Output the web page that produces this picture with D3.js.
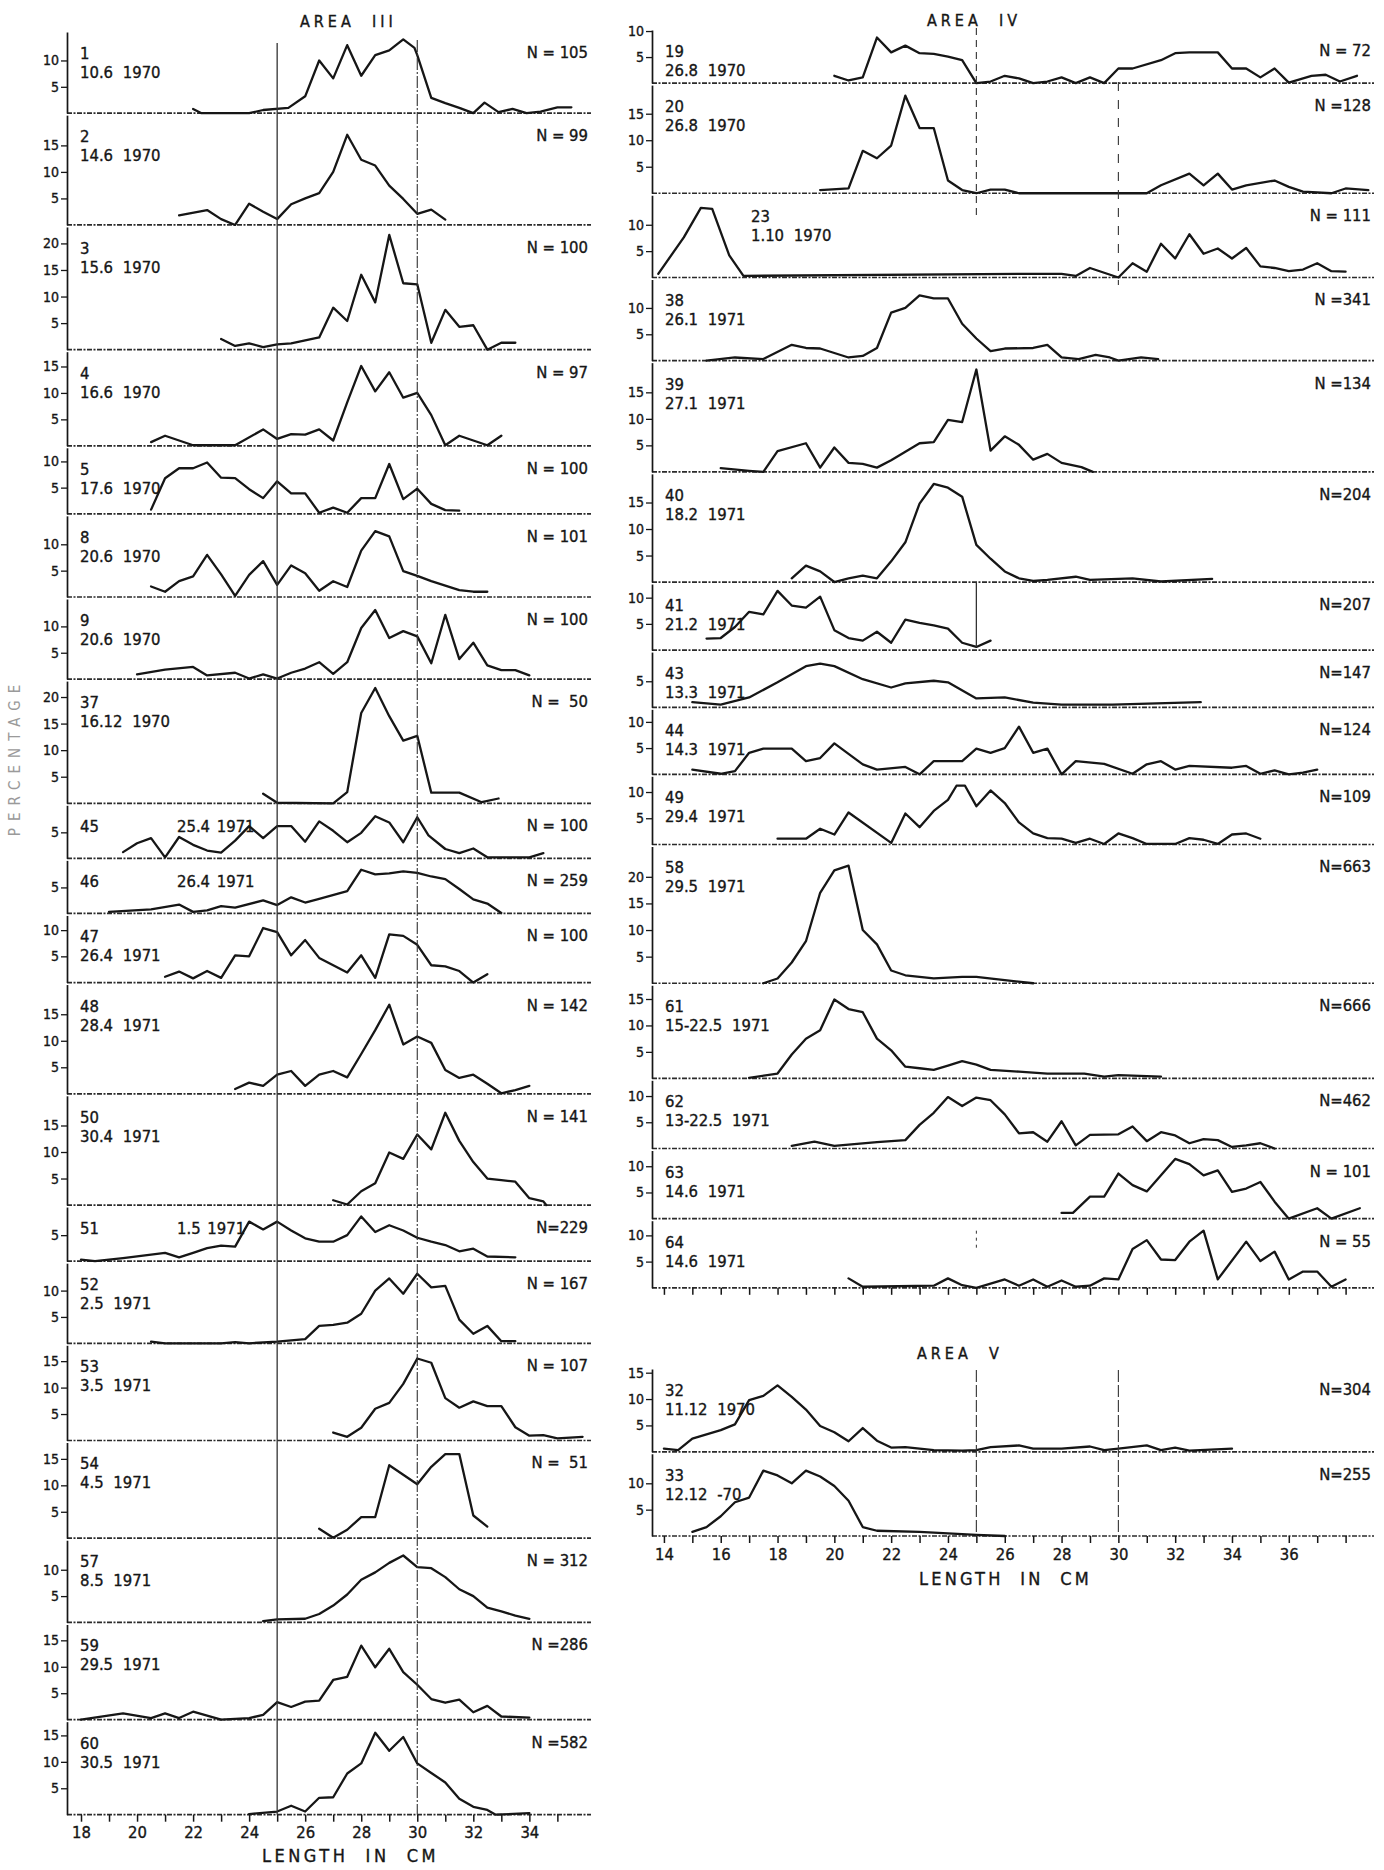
<!DOCTYPE html>
<html><head><meta charset="utf-8">
<script src="https://cdn.jsdelivr.net/npm/d3@7"></script>
<style>
body{margin:0;background:#fff;}
svg text{font-family:"DejaVu Sans Condensed","Liberation Sans Narrow","DejaVu Sans",sans-serif;fill:#161616;stroke:#161616;stroke-width:0.35px;}
</style></head><body>
<svg id="chart" width="1384" height="1870"></svg>
<script>
// ---------- AREA III (left column) ----------
const area3Ids   = ["1","2","3","4","5","8","9","37","45","46","47","48","50","51","52","53","54","57","59","60"];
const area3Dates = ["10.6 1970","14.6 1970","15.6 1970","16.6 1970","17.6 1970","20.6 1970","20.6 1970","16.12 1970","25.4 1971","26.4 1971","26.4 1971","28.4 1971","30.4 1971","1.5 1971","2.5 1971","3.5 1971","4.5 1971","8.5 1971","29.5 1971","30.5 1971"];
const area3N     = ["N = 105","N = 99","N = 100","N = 97","N = 100","N = 101","N = 100","N =  50","N = 100","N = 259","N = 100","N = 142","N = 141","N=229","N = 167","N = 107","N =  51","N = 312","N =286","N =582"];
const area3Top   = [15.4,20.7,23.1,17.8,12.6,15.4,15.2,23,10.2,10.2,12.8,20.6,20.6,10.4,15.2,18,18.1,15.6,18,17.6];
const area3TickMax = [10,15,20,15,10,10,10,20,5,5,10,15,15,5,10,15,15,10,15,15];

const a3_1 = [[22,0.8],[22.3,0],[24,0],[24.5,0.6],[25.4,1],[26,3.2],[26.5,10],[27,6.6],[27.5,12.9],[28,7.1],[28.5,11],[29,11.9],[29.5,14],[29.9,12.4],[30,11],[30.5,2.9],[31,1.9],[31.5,1],[32,0],[32.4,2],[32.9,0.2],[33.4,0.8],[33.9,0],[34.4,0.3],[35,1.1],[35.5,1.1]];
const a3_2 = [[21.5,1.8],[22.5,2.8],[23,1.1],[23.5,0],[24,4],[24.5,2.5],[25,1.1],[25.5,3.9],[26,5],[26.5,6],[27,10],[27.5,17],[28,12.3],[28.5,11.2],[29,7.4],[29.5,4.9],[30,2.1],[30.5,2.9],[31,1]];
const a3_3 = [[23,2],[23.5,0.7],[24,1.2],[24.5,0.5],[25,1],[25.5,1.2],[26.5,2.3],[27,7.9],[27.5,5.4],[28,14.1],[28.5,8.9],[29,21.6],[29.5,12.5],[30,12.3],[30.5,1.3],[31,7.5],[31.5,4.3],[32,4.6],[32.5,0],[33,1.3],[33.5,1.3]];
const a3_4 = [[20.5,0.7],[21,1.9],[21.5,1],[22,0.1],[23.5,0.1],[24.5,3.1],[25,1.3],[25.5,2.2],[26,2.1],[26.5,3.1],[27,1],[27.5,8.2],[28,15.1],[28.5,10.3],[29,13.9],[29.5,9.1],[30,10],[30.5,5.8],[31,0.1],[31.5,1.9],[32,1],[32.5,0.1],[33,1.9]];
const a3_5 = [[20.5,0.8],[21,6.8],[21.5,8.7],[22,8.7],[22.5,9.8],[23,6.9],[23.5,6.8],[24,4.7],[24.5,3],[25,6.2],[25.5,3.9],[26,3.9],[26.5,0.2],[27,1.2],[27.5,0.2],[28,3],[28.5,3],[29,9.5],[29.5,2.8],[30,4.8],[30.5,1.9],[31,0.7],[31.5,0.6]];
const a3_8 = [[20.5,2],[21,1],[21.5,3],[22,3.9],[22.5,8],[23,4.3],[23.5,0.2],[24,4.2],[24.5,6.8],[25,2.3],[25.5,6],[26,4.5],[26.5,1.2],[27,3],[27.5,1.9],[28,8.8],[28.5,12.5],[29,11.5],[29.5,4.9],[30,4],[30.5,3],[31.5,1.3],[32,1],[32.5,1]];
const a3_9 = [[20,0.9],[21,1.8],[22,2.3],[22.5,0.7],[23.5,1.2],[24,0.1],[24.5,0.9],[25,0.1],[25.5,1.2],[26,2],[26.5,3.2],[27,1],[27.5,3.2],[28,9.7],[28.5,13.1],[29,7.8],[29.5,9.1],[30,8.1],[30.5,3],[31,12.2],[31.5,3.8],[32,6.9],[32.5,2.6],[33,1.7],[33.5,1.7],[34,0.7]];
const a3_37 = [[24.5,1.8],[25,0.1],[27,0],[27.5,2.1],[28,17],[28.5,21.7],[29,16.4],[29.5,11.8],[30,12.7],[30.5,2],[31.5,2],[32.3,0.2],[32.9,0.9]];
const a3_45 = [[19.5,1.2],[20,2.9],[20.5,3.9],[21,0.2],[21.5,4.1],[22,2.6],[22.5,1.5],[23,1.1],[23.5,3.4],[24,6.2],[24.5,3.9],[25,6.2],[25.5,6.2],[26,3.2],[26.5,7.1],[27,5.3],[27.5,3.1],[28,4.9],[28.5,8.1],[29,6.9],[29.5,3.1],[30,7.9],[30.4,4.4],[31,1.8],[31.5,1],[32,1.9],[32.5,0.2],[34,0.2],[34.5,1]];
const a3_46 = [[19,0.3],[20.5,0.8],[21.5,1.7],[22,0.3],[22.5,0.6],[23,1.4],[23.5,1.1],[24.5,2.5],[25,1.6],[25.5,3.1],[26,2.1],[26.5,2.8],[27.5,4.3],[28,8.4],[28.5,7.5],[29,7.7],[29.5,8.1],[30,7.8],[30.5,7.1],[31,6.6],[31.5,4.7],[32,2.7],[32.5,1.9],[33,0.1]];
const a3_47 = [[21,1.1],[21.5,2.1],[22,0.8],[22.5,2.2],[23,0.9],[23.5,5.2],[24,5],[24.5,10.4],[25,9.6],[25.5,5.2],[26,8.1],[26.5,4.7],[27.5,1.9],[28,5.2],[28.5,0.9],[29,9.2],[29.5,8.9],[30,7.2],[30.5,3.3],[31,3.1],[31.5,2.2],[32,0],[32.5,1.6]];
const a3_48 = [[23.5,0.9],[24,2.1],[24.5,1.5],[25,3.6],[25.5,4.3],[26,1.5],[26.5,3.6],[27,4.3],[27.5,3.1],[28,7.5],[28.5,12],[29,16.8],[29.5,9.3],[30,10.8],[30.5,9.6],[31,4.5],[31.5,3],[32,3.6],[32.5,1.9],[33,0.1],[33.5,0.7],[34,1.5]];
const a3_50 = [[27,0.9],[27.5,0.1],[28,2.6],[28.5,4.1],[29,9.9],[29.5,8.7],[30,13.3],[30.5,10.5],[31,17.4],[31.5,12.1],[32,8.1],[32.5,5],[33,4.7],[33.5,4.4],[34,1.3],[34.5,0.7],[34.6,0]];
const a3_51 = [[18,0.3],[18.5,0],[19.5,0.6],[21,1.6],[21.5,0.75],[22,1.6],[22.5,2.5],[23,3],[23.5,2.8],[24,7.6],[24.5,6.1],[25,7.6],[25.5,5.9],[26,4.4],[26.5,3.75],[27,3.75],[27.5,5],[28,8.6],[28.5,5.6],[29,6.9],[29.5,5.9],[30,4.5],[30.5,3.75],[31,3.1],[31.5,1.9],[32,2.4],[32.5,0.9],[33.5,0.75]];
const a3_52 = [[20.5,0.3],[21,0],[23,0],[23.5,0.2],[24,0],[25,0.3],[26,0.8],[26.5,3.3],[27,3.5],[27.5,3.9],[28,5.6],[28.5,10],[29,12.3],[29.5,9.4],[30,13.2],[30.5,10.6],[31,10.9],[31.5,4.5],[32,1.8],[32.5,3.3],[33,0.4],[33.5,0.4]];
const a3_53 = [[27,1.5],[27.5,0.7],[28,2.4],[28.5,6],[29,7.1],[29.5,10.7],[30,15.5],[30.5,14.7],[31,8],[31.5,6.2],[32,7.4],[32.5,6.5],[33,6.5],[33.5,2.5],[34,0.9],[34.5,1],[35,0.4],[35.9,0.7]];
const a3_54 = [[26.5,1.8],[27,0.1],[27.5,1.6],[28,4],[28.5,4],[29,13.8],[29.5,12],[30,10.2],[30.5,13.5],[31,15.9],[31.5,15.9],[32,4.3],[32.5,2.2]];
const a3_57 = [[24.5,0.25],[25,0.6],[26,0.7],[26.5,1.6],[27,3.2],[27.5,5.3],[28,8.1],[28.5,9.5],[29,11.3],[29.5,12.7],[30,10.5],[30.5,10.3],[31,8.6],[31.5,6.3],[32,5],[32.5,2.8],[33,2.1],[33.5,1.3],[34,0.7]];
const a3_59 = [[18,0],[19.5,1.2],[20.5,0.3],[21,1.2],[21.5,0.3],[22,1.5],[23,0],[24,0.3],[24.5,0.9],[25,3.3],[25.5,2.4],[26,3.4],[26.5,3.6],[27,7.5],[27.5,8.1],[28,14],[28.5,9.9],[29,13.4],[29.5,9],[30,6.6],[30.5,3.9],[31,3.2],[31.5,3.8],[32,1.4],[32.5,2.6],[33,0.6],[34,0.4]];
const a3_60 = [[24,0.1],[25,0.6],[25.5,1.7],[26,0.6],[26.5,3.2],[27,3.3],[27.5,7.8],[28,9.7],[28.5,15.5],[29,12.1],[29.5,14.7],[30,9.7],[30.5,7.9],[31,6.1],[31.5,3],[32,1.5],[32.5,0.9],[32.8,0],[34,0.3]];
const area3Series = [a3_1,a3_2,a3_3,a3_4,a3_5,a3_8,a3_9,a3_37,a3_45,a3_46,a3_47,a3_48,a3_50,a3_51,a3_52,a3_53,a3_54,a3_57,a3_59,a3_60];

// ---------- AREA IV (right column) ----------
const area4Ids   = ["19","20","23","38","39","40","41","43","44","49","58","61","62","63","64"];
const area4Dates = ["26.8 1970","26.8 1970","1.10 1970","26.1 1971","27.1 1971","18.2 1971","21.2 1971","13.3 1971","14.3 1971","29.4 1971","29.5 1971","15-22.5 1971","13-22.5 1971","14.6 1971","14.6 1971"];
const area4N     = ["N = 72","N =128","N = 111","N =341","N =134","N=204","N=207","N=147","N=124","N=109","N=663","N=666","N=462","N = 101","N = 55"];
const area4Top   = [10.2,20.4,15.6,15.4,20.6,20.4,12.6,10.6,12.4,13,25.7,17.6,13,13,12.8];
const area4TickMax = [10,15,10,10,15,15,10,5,10,10,20,15,10,10,10];

const a4_19 = [[20,1.4],[20.5,0.5],[21,1.1],[21.5,8.75],[22,5.9],[22.5,7.2],[23,5.75],[23.5,5.6],[24,5.1],[24.5,4.4],[25,0],[25.5,0.3],[26,1.4],[26.5,0.9],[27,0],[27.5,0.3],[28,1.1],[28.5,0],[29,1.1],[29.5,0],[30,2.8],[30.5,2.8],[31.5,4.4],[32,5.75],[32.5,5.9],[33.5,5.9],[34,2.8],[34.5,2.8],[35,1.1],[35.5,2.8],[36,0.1],[36.8,1.4],[37.3,1.6],[37.8,0.3],[38.4,1.4]];
const a4_20 = [[19.5,0.6],[20.5,0.9],[21,8],[21.5,6.6],[22,9],[22.5,18.4],[23,12.3],[23.5,12.3],[24,2.4],[24.5,0.6],[25,0],[25.5,0.7],[26,0.7],[26.5,0],[31,0],[31.5,1.5],[32.5,3.7],[33,1.5],[33.5,3.7],[34,0.7],[34.5,1.5],[35.5,2.4],[36,1.2],[36.5,0.3],[37.5,0],[38,0.9],[38.8,0.6]];
const a4_23 = [[13.8,0.7],[14.7,7.6],[15.3,13.2],[15.7,13],[16.3,4.2],[16.8,0.3],[27,0.7],[28,0.7],[28.5,0.3],[29,1.8],[30,0],[30.5,2.7],[31,1.1],[31.5,6.4],[32,3.6],[32.5,8.2],[33,4.5],[33.5,5.5],[34,3.6],[34.5,5.6],[35,2.1],[35.5,1.8],[36,1.2],[36.5,1.5],[37,2.7],[37.5,1.2],[38,1.1]];
const a4_38 = [[15.5,0],[16.5,0.6],[17.5,0.3],[18.5,3],[19,2.4],[19.5,2.3],[20.5,0.6],[21,0.9],[21.5,2.4],[22,9.1],[22.5,10],[23,12.4],[23.5,11.8],[24,11.8],[24.5,7],[25,4.2],[25.5,1.8],[26,2.3],[27,2.4],[27.5,3],[28,0.6],[28.6,0.3],[29.2,1.1],[29.7,0.6],[30,0],[30.8,0.6],[31.4,0.3]];
const a4_39 = [[16,0.7],[17,0.2],[17.5,0],[18,3.9],[19,5.4],[19.5,0.8],[20,4.6],[20.5,1.7],[21,1.5],[21.5,0.8],[22,2.2],[23,5.4],[23.5,5.6],[24,9.8],[24.5,9.4],[25,19.3],[25.5,4],[26,6.7],[26.5,5.1],[27,2.3],[27.5,3.4],[28,1.7],[28.7,0.9],[29.1,0]];
const a4_40 = [[18.5,0.7],[19,3.1],[19.5,2],[20,0],[20.5,0.7],[21,1.2],[21.5,0.7],[22,3.9],[22.5,7.5],[23,14.8],[23.5,18.5],[24,17.8],[24.5,16.1],[25,7],[25.5,4.4],[26,2],[26.5,0.7],[27,0.2],[27.5,0.4],[28.5,1],[29,0.4],[30.5,0.7],[31.5,0.1],[33.3,0.6]];
const a4_41 = [[15.5,2.2],[16,2.3],[16.5,4.4],[17,7.3],[17.5,6.8],[18,11.3],[18.5,8.5],[19,8.1],[19.5,10.2],[20,3.8],[20.5,2.3],[21,1.8],[21.5,3.5],[22,1.4],[22.5,5.8],[23,5.2],[23.5,4.7],[24,4.1],[24.5,1.4],[25,0.6],[25.5,1.8]];
const a4_43 = [[15,1],[16,0.5],[17,1.9],[18,4.8],[19,7.9],[19.5,8.4],[20,7.9],[21,5.4],[22,3.8],[22.5,4.6],[23.5,5.1],[24,4.8],[25,1.7],[26,1.9],[27,0.9],[28,0.5],[29.8,0.5],[32.9,1]];
const a4_44 = [[15,0.9],[16,0.1],[16.5,0.6],[17,4.1],[17.5,4.9],[18.5,4.9],[19,2.5],[19.5,3.1],[20,5.9],[21,1.9],[21.5,0.9],[22.5,1.4],[23,0],[23.5,2.5],[24.5,2.5],[25,4.9],[25.5,4.1],[26,5],[26.5,9.1],[27,4.1],[27.5,4.9],[28,0],[28.5,2.5],[29.5,2],[30.5,0.1],[31,1.9],[31.5,2.5],[32,0.9],[32.5,1.6],[34,1.25],[34.5,1.6],[35,0.1],[35.5,0.75],[36,0],[36.5,0.3],[37,0.9]];
const a4_49 = [[18,1.1],[19,1.1],[19.5,3],[20,1.9],[20.5,6.1],[22,0.3],[22.5,5.9],[23,3.3],[23.5,6.4],[24,8.5],[24.3,11.2],[24.6,11.2],[25,7.3],[25.5,10.3],[26,7.9],[26.5,4.2],[27,2.1],[27.5,1.2],[28,1.1],[28.5,0.3],[29,1.1],[29.5,0.1],[30,2.1],[30.5,1.2],[31,0.1],[32,0.1],[32.5,1.2],[33,0.9],[33.5,0.1],[34,1.9],[34.5,2.1],[35,1.1]];
const a4_58 = [[17.5,0],[18,0.9],[18.5,3.9],[19,7.9],[19.5,17],[20,21.2],[20.5,22.1],[21,10],[21.5,7.3],[22,2.4],[22.5,1.5],[23.5,0.9],[24.5,1.2],[25,1.2],[26,0.6],[27,0]];
const a4_61 = [[17,0.1],[18,0.9],[18.5,4.5],[19,7.5],[19.5,9.1],[20,14.9],[20.5,13.1],[21,12.5],[21.5,7.5],[22,5.3],[22.5,2.2],[23,1.9],[23.5,1.6],[24,2.4],[24.5,3.25],[25,2.6],[25.5,1.6],[26.5,1.25],[27.5,0.9],[28.8,0.9],[29.5,0.3],[30,0.6],[31.5,0.3]];
const a4_62 = [[18.5,0.5],[19.3,1.3],[20,0.5],[21.5,1.2],[22.5,1.6],[23,4.5],[23.5,6.8],[24,9.8],[24.5,8.1],[25,9.7],[25.5,9.2],[26,6.5],[26.5,2.9],[27,3.1],[27.5,1.3],[28,5.2],[28.5,0.6],[29,2.6],[30,2.7],[30.5,4.2],[31,1.4],[31.5,3.1],[32,2.5],[32.5,1],[33,1.8],[33.5,1.6],[34,0.3],[34.5,0.6],[35,1],[35.5,0]];
const a4_63 = [[28,1.1],[28.4,1.1],[29,4.2],[29.5,4.2],[30,8.6],[30.5,6.4],[31,5.2],[32,11.4],[32.5,10.4],[33,8.25],[33.5,9.2],[34,5.1],[34.5,5.75],[35,7],[35.5,3.25],[36,0],[37,2],[37.5,0],[38.5,2]];
const a4_64 = [[20.5,1.8],[21,0.2],[23.5,0.4],[24,1.8],[24.5,0.5],[25,0],[26,1.6],[26.5,0.4],[27,1.6],[27.5,0.2],[28,1.4],[28.5,0.2],[29,0.4],[29.5,1.8],[30,1.6],[30.5,7.4],[31,9.1],[31.5,5.4],[32,5.3],[32.5,8.8],[33,10.9],[33.5,1.6],[34.5,8.8],[35,5.1],[35.5,6.9],[36,1.6],[36.5,3.1],[37,3.1],[37.5,0.2],[38,1.6]];
const area4Series = [a4_19,a4_20,a4_23,a4_38,a4_39,a4_40,a4_41,a4_43,a4_44,a4_49,a4_58,a4_61,a4_62,a4_63,a4_64];

// ---------- AREA V ----------
const area5Ids   = ["32","33"];
const area5Dates = ["11.12 1970","12.12 -70"];
const area5N     = ["N=304","N=255"];
const area5Top   = [15.7,15.6];
const area5TickMax = [15,10];
const a5_32 = [[14,0.6],[14.5,0.3],[15,2.5],[16,4.1],[16.5,5.2],[17,9.8],[17.5,10.6],[18,12.6],[18.5,10.4],[19,8],[19.5,4.9],[20,3.7],[20.5,2],[21,4.5],[21.5,2.1],[22,0.8],[22.5,0.9],[23.5,0.3],[24.5,0.2],[25,0.3],[25.5,0.9],[26.5,1.2],[27,0.6],[28,0.6],[29,1],[29.5,0.3],[30,0.6],[31,1.2],[31.5,0.3],[32,0.8],[32.5,0.2],[34,0.6]];
const a5_33 = [[15,0.8],[15.5,1.7],[16,3.75],[16.5,6.4],[17,7.3],[17.5,12.4],[18,11.5],[18.5,10],[19,12.4],[19.5,11.3],[20,9.5],[20.5,6.7],[21,1.7],[21.5,1],[23,0.8],[24,0.5],[25,0.2],[26,0]];
const area5Series = [a5_32,a5_33];

// ---------- axes ----------
const leftXLabels  = [18,20,22,24,26,28,30,32,34];
const rightXLabels = [14,16,18,20,22,24,26,28,30,32,34,36];
const leftDomain  = [17.5, 36.2];
const rightDomain = [13.58, 39.0];

// ================= drawing =================
const svg = d3.select("#chart");
svg.append("rect").attr("width",1384).attr("height",1870).attr("fill","#fff");
const K = 5.4;           // px per percent
const INK = "#161616";
const inlineDate = new Set(["45","46","51"]);
const shiftedLabel = new Set(["23"]);

const xLeft  = d3.scaleLinear().domain(leftDomain).range([67, 591]);
const xRight = d3.scaleLinear().domain(rightDomain).range([652, 1374]);

function drawColumn(o) {
  const x = o.x;
  const [x0, x1] = x.range();
  let cursor = o.top;
  const bases = [];
  o.ids.forEach((id, i) => {
    const pTop = cursor, base = cursor + o.tops[i] * K;
    cursor = base;
    bases.push(base);
    const y = d3.scaleLinear().domain([0, o.tops[i]]).range([base, pTop + 2]);
    const g = svg.append("g");
    // rough dotted baseline
    g.append("line").attr("x1", x0).attr("x2", x1).attr("y1", base).attr("y2", base)
      .attr("stroke", "#2a2a2a").attr("stroke-width", 1.7).attr("stroke-dasharray", "5,1.5,2,1.5");
    // y axis
    const ticks = d3.range(5, o.tickMax[i] + 0.1, 5);
    const axg = g.append("g").attr("transform", `translate(${x0},0)`)
      .call(d3.axisLeft(y).tickValues(ticks).tickSize(6).tickSizeOuter(0).tickPadding(2).tickFormat(d3.format("d")));
    axg.attr("font-family", null);
    axg.select(".domain").attr("stroke", INK).attr("stroke-width", 1.7);
    axg.selectAll(".tick line").attr("stroke", INK).attr("stroke-width", 1.3);
    axg.selectAll(".tick text").attr("font-size", 14).style("fill", INK);
    // data line
    g.append("path").datum(o.series[i])
      .attr("d", d3.line().x(d => x(d[0])).y(d => y(d[1])))
      .attr("fill", "none").attr("stroke", INK).attr("stroke-width", 2.3)
      .attr("stroke-linejoin", "round").attr("stroke-linecap", "round");
    // labels
    const lx = shiftedLabel.has(id) ? x0 + 99 : x0 + 13;
    g.append("text").attr("x", lx).attr("y", pTop + 29).attr("font-size", 16.5).text(id);
    if (inlineDate.has(id)) {
      g.append("text").attr("x", x0 + 110).attr("y", pTop + 29).attr("font-size", 16.5)
        .attr("word-spacing", 2).text(o.dates[i]);
    } else {
      g.append("text").attr("x", lx).attr("y", pTop + 48).attr("font-size", 16.5)
        .attr("word-spacing", 5).text(o.dates[i]);
    }
    g.append("text").attr("x", x1 - 3).attr("y", pTop + 28).attr("text-anchor", "end")
      .attr("font-size", 16.5).attr("xml:space","preserve").text(o.ns[i]);
  });
  return bases;
}

function bottomAxis(x, yPos, lo, hi, labels) {
  const g = svg.append("g").attr("transform", `translate(0,${yPos})`)
    .call(d3.axisBottom(x).tickValues(d3.range(lo, hi + 1)).tickSize(7).tickPadding(5)
      .tickFormat(d => labels && labels.includes(d) ? d : ""));
  g.attr("font-family", null);
  g.select(".domain").remove();
  g.selectAll(".tick line").attr("stroke", INK).attr("stroke-width", 1.5);
  g.selectAll(".tick text").attr("font-size", 16.5).style("fill", INK);
}

function vline(x, xv, y1, y2, dash, w) {
  svg.append("line").attr("x1", x(xv)).attr("x2", x(xv)).attr("y1", y1).attr("y2", y2)
    .attr("stroke", "#333").attr("stroke-width", w || 1.1).attr("stroke-dasharray", dash || null);
}

// AREA III
const b3 = drawColumn({ids: area3Ids, dates: area3Dates, ns: area3N, tops: area3Top, tickMax: area3TickMax,
  series: area3Series, x: xLeft, top: 30});
vline(xLeft, 25, 43, b3[b3.length - 1], null, 1.3);
vline(xLeft, 30, 40, b3[b3.length - 1], "12,2,2,2", 1.1);
bottomAxis(xLeft, b3[b3.length - 1], 18, 35, leftXLabels);

// AREA IV
const b4 = drawColumn({ids: area4Ids, dates: area4Dates, ns: area4N, tops: area4Top, tickMax: area4TickMax,
  series: area4Series, x: xRight, top: 28});
vline(xRight, 25, 28, 215, "7,5", 1.1);
vline(xRight, 30, 82, 285, "9,9", 1.1);
vline(xRight, 25, b4[5], b4[6] - 3, null, 1.3);
vline(xRight, 25, b4[13] + 12, b4[13] + 32, "3,4", 1);
bottomAxis(xRight, b4[b4.length - 1], 14, 38, null);

// AREA V
const b5 = drawColumn({ids: area5Ids, dates: area5Dates, ns: area5N, tops: area5Top, tickMax: area5TickMax,
  series: area5Series, x: xRight, top: 1367});
vline(xRight, 25, 1370, b5[1], "12,3", 1.1);
vline(xRight, 30, 1370, b5[1], "12,3", 1.1);
bottomAxis(xRight, b5[b5.length - 1], 14, 38, rightXLabels);

// titles
function title(txt, x, y, size, ls) {
  svg.append("text").attr("x", x).attr("y", y).attr("font-size", size)
    .attr("letter-spacing", ls).attr("xml:space","preserve").text(txt);
}
title("AREA  III", 300, 27, 16, 4);
title("AREA  IV", 927, 26, 16, 4);
title("AREA  V", 917, 1359, 16, 4);
title("LENGTH  IN  CM", 262, 1862, 18, 3.5);
title("LENGTH  IN  CM", 919, 1585, 18, 3.2);

svg.append("text").attr("transform", "translate(20,757) rotate(-90)").attr("text-anchor", "middle")
  .attr("font-size", 15).attr("letter-spacing", 7).style("fill", "#9a9a9a").style("stroke", "none").text("PERCENTAGE");
</script>
</body></html>
